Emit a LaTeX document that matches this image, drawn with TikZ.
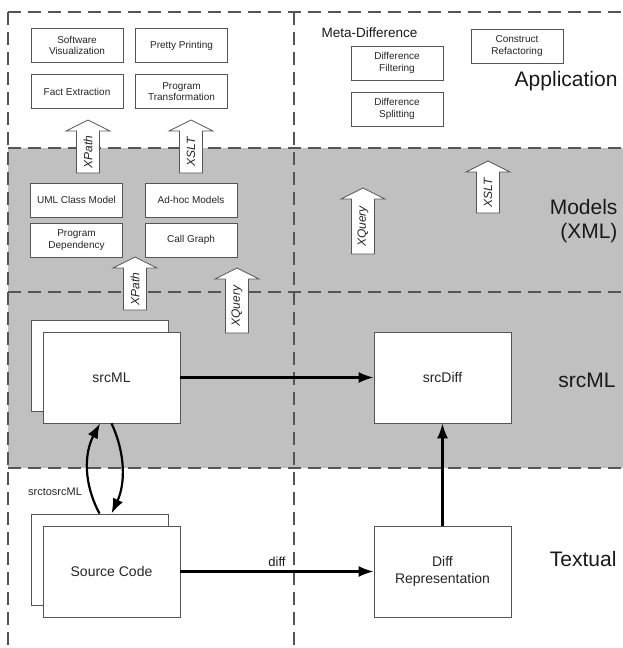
\documentclass[tikz,border=0pt]{standalone}
\usepackage{fontspec}
\setmainfont{Liberation Sans}
\usetikzlibrary{arrows.meta}
\usetikzlibrary{positioning}
\definecolor{bandgray}{RGB}{192,192,192}
\definecolor{linegray}{RGB}{85,85,85}

\begin{document}
\begin{tikzpicture}[x=1pt,y=-1pt,box/.style={draw=linegray, line width=0.8pt, fill=white, align=center, text=black!85, font=\fontsize{10}{11.5}\selectfont, minimum width=92pt, minimum height=34pt, inner sep=1pt}]
    \tikzset{bigbox/.style={box, minimum width=137pt, minimum height=91pt, font=\fontsize{14}{17}\selectfont}}
    \tikzset{layer/.style={anchor=east, align=right, text=black!90, font=\fontsize{21}{24}\selectfont},
    dashline/.style={draw=linegray, line width=1.2pt, dash pattern=on 13pt off 7pt},
    blockarr/.style={draw=linegray, line width=0.8pt, fill=white},
    arrlbl/.style={rotate=90, inner sep=0pt, text=black!85, font=\fontsize{12}{12}\selectfont\itshape},
    conn/.style={line width=2.2pt, -{Latex[length=15pt, width=11pt]}}}
    \useasboundingbox (0,0) rectangle (623,648);
    % bands
    \fill[bandgray] (8,148) rectangle (623,468);
    \foreach \yy in {12,148,292,468} { \draw[dashline] (8,\yy) -- (623,\yy); }
    \foreach \xx in {8,294} { \draw[dashline] (\xx,12) -- (\xx,646); }

    % application
    \node[box] (swvis) at (77,45.5) {Software\\Visualization};
    \node[box] (pretty) at (181.5,45.5) {Pretty Printing};
    \node[box] (fact) at (77,91.5) {Fact Extraction};
    \node[box] (progtr) at (181.5,91.5) {Program\\Transformation};
    \node[anchor=west, text=black!90, font=\fontsize{13.5}{16}\selectfont] (meta) at (318,33) {Meta-Difference};
    \node[box] (filt) at (397,63) {Difference\\Filtering};
    \node[box] (split) at (397,109) {Difference\\Splitting};
    \node[box] (refac) at (517,46) {Construct\\Refactoring};

    % models
    \node[box] (uml) at (76.5,200) {UML Class Model};
    \node[box] (adhoc) at (191,200) {Ad-hoc Models};
    \node[box] (pdep) at (76.5,240) {Program\\Dependency};
    \node[box] (callg) at (191,240) {Call Graph};

    % block arrows
    \foreach \xx/\yt/\yb/\lab [count=\i] in {88/120/173/XPath, 191/120/173/XSLT, 135/257/310/XPath, 237/268/333/XQuery, 363/188/254/XQuery, 488/161/213/XSLT} {
    \draw[blockarr] (\xx-11.5,\yb) -- (\xx-11.5,\yt+11) -- (\xx-22,\yt+11) -- (\xx,\yt) -- (\xx+22,\yt+11) -- (\xx+11.5,\yt+11) -- (\xx+11.5,\yb) -- cycle;
    \node[arrlbl] (op\i) at (\xx,{(\yt+11+\yb)/2}) {\lab};
    }

    % srcML and textual
    \node[bigbox] (srcmlb) at (99.5,365.5) {};
    \node[bigbox] (srcml) at (111.5,377.5) {srcML};
    \node[bigbox] (srcdiff) at (442.5,377.5) {srcDiff};
    \node[bigbox] (srcb) at (99.5,559.5) {};
    \node[bigbox] (src) at (111.5,571.5) {Source Code};
    \node[bigbox] (diffrep) at (442.5,571.5) {Diff\\Representation};

    \draw[conn] (srcml) -- (srcdiff);
    \draw[conn] (src) -- node[above, text=black!90, font=\fontsize{13}{15}\selectfont] (difflbl) {diff} (diffrep);
    \draw[conn] (diffrep) -- (srcdiff);
    \draw[conn] (srcb.north) .. controls +(-16,-30) and +(-16,30) .. ([xshift=-11.5pt]srcml.south);
    \draw[conn] (srcml.south) .. controls +(14,30) and +(14,-30) .. ([xshift=12pt]srcb.north);
    \node[text=black!85, font=\fontsize{11}{13}\selectfont] (s2s) at (55,492) {srctosrcML};

    % layer names
    \node[layer] (lapp) at (621,81) {Application};
    \node[layer] (lmod) at (621,221) {Models\\(XML)};
    \node[layer] (lsrc) at (619,380) {srcML};
    \node[layer] (ltxt) at (620,559) {Textual};
\end{tikzpicture}
\end{document}
